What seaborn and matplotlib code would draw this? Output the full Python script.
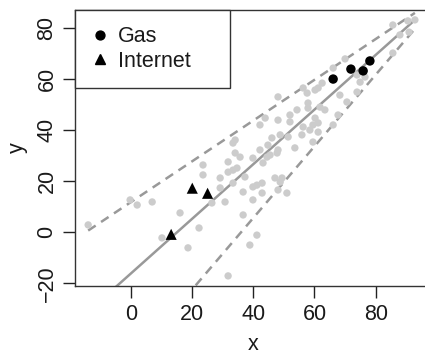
import matplotlib
matplotlib.use("Agg")
import matplotlib.pyplot as plt
import seaborn as sns
import numpy as np
import pandas as pd
from matplotlib.lines import Line2D

# ---- data ----
gray_x = [85.6, 90.5, 92.8, 87.9, 90.9, 85.6, 70.0, 66.1, 73.9, 76.5, 74.9, 61.2, 62.5, 56.3,
          57.6, 60.2, 48.1, 68.3, 73.9, 70.6, 57.9, 57.9, 61.8, 63.4, 54.3, 52.0, 52.0, 48.1,
          43.9, 42.2, 60.2, 59.5, 61.2, 67.7, 66.1, 58.5, 61.2, 56.3, 55.9, 48.8, 51.4, 46.1,
          44.8, 59.5, 53.6, 48.1, 42.2, 44.5, 39.9, 34.1, 34.1, 35.7, 33.4, 34.7, 37.3, 43.2,
          47.1, 49.4, 47.8, 45.5, 31.8, 23.6, 23.6, 29.2, 31.8, 48.8, 41.2, 42.9, 29.2, 36.7,
          42.9, 48.1, 51.0, 39.9, 30.8, 26.5, 22.3, 36.7, 41.2, 38.9, 31.8, 33.4, 39.9, -0.2,
          2.1, 7.0, -13.9, 16.1, 10.2, 18.7, 33.4]
gray_y = [81.3, 82.9, 83.3, 77.4, 78.5, 70.3, 68.0, 64.4, 61.7, 60.9, 58.9, 56.6, 58.5, 56.6,
          54.6, 55.8, 53.1, 53.8, 55.0, 51.1, 50.7, 48.7, 49.1, 48.0, 48.0, 46.0, 43.3, 44.0,
          44.8, 42.1, 44.8, 42.1, 42.9, 46.0, 42.1, 40.1, 39.3, 41.3, 38.2, 38.2, 37.4, 37.0,
          34.2, 35.4, 33.1, 32.3, 32.3, 29.5, 29.1, 36.2, 31.1, 29.5, 24.4, 25.2, 21.7, 27.2,
          21.3, 21.3, 31.1, 30.3, 27.6, 26.4, 22.5, 21.3, 23.6, 19.7, 18.5, 19.3, 17.4, 15.8,
          15.4, 16.6, 15.4, 12.7, 11.9, 11.5, 1.7, 6.8, -1.1, -5.0, -17.1, 19.3, 17.8, 12.7,
          10.7, 11.9, 2.9, 7.6, -2.2, -6.1, 35.0]
gas_x = [66.1, 71.9, 75.9, 78.1]
gas_y = [60.1, 64.0, 63.3, 67.2]
internet_x = [13.2, 20.1, 25.1]
internet_y = [-0.8, 17.3, 15.3]
# lines: (intercept, slope)
fit_line = (-16.2, 1.072)
upper_band = (11.8, 0.80)
lower_band = (-50.6, 1.405)
x_ticks = [0, 20, 40, 60, 80]
y_ticks = [-20, 0, 20, 40, 60, 80]

sns.set_style("ticks")
plt.rcParams['font.family'] = ['Liberation Sans', 'DejaVu Sans']
FS = 15.5
TXT = '#1a1a1a'

fig = plt.figure(figsize=(4.25, 3.55), dpi=100)
W, H = 425, 355
left_px, right_px, top_px, bot_px = 75, 432, 10, 286
ax = fig.add_axes([left_px / W, (H - bot_px) / H, (right_px - left_px) / W, (bot_px - top_px) / H])

xs = np.array([min(gray_x), max(gray_x)])
for (a, b), ls in [(fit_line, '-'), (upper_band, (0, (3.6, 2.6))), (lower_band, (0, (3.6, 2.6)))]:
    ax.plot(xs, a + b * xs, color='#999999', lw=1.8, ls=ls, zorder=1,
            solid_capstyle='butt', dash_capstyle='butt')

df = pd.DataFrame({'x': gray_x, 'y': gray_y})
sns.scatterplot(data=df, x='x', y='y', color='#cccccc', s=28, edgecolor='none', ax=ax, zorder=2)
sns.scatterplot(x=gas_x, y=gas_y, color='black', s=46, marker='o', edgecolor='none', ax=ax, zorder=3)
sns.scatterplot(x=internet_x, y=internet_y, color='black', s=64, marker='^', edgecolor='none', ax=ax, zorder=3)

def fmt(t):
    return str(t).replace('-', '\u2212')

ax.set_xlim(-18.2, (right_px - 130.7) / 3.0625)
ax.set_ylim(-21.06, 87.18)
ax.set_xticks(x_ticks)
ax.set_yticks(y_ticks)
ax.set_xticklabels([fmt(t) for t in x_ticks])
ax.set_yticklabels([fmt(t) for t in y_ticks], rotation=90, va='center')
ax.tick_params(axis='both', length=8.6, width=1, color='#222222', labelsize=FS, pad=4,
               labelcolor=TXT)
for sp in ax.spines.values():
    sp.set_visible(True)
    sp.set_color('#333333')
    sp.set_linewidth(1)
ax.set_xlabel('x', fontsize=FS, color=TXT, labelpad=7)
ax.set_ylabel('y', fontsize=FS, color=TXT, labelpad=6)

handles = [Line2D([], [], ls='none', marker='o', color='black', markersize=6.4),
           Line2D([], [], ls='none', marker='^', color='black', markersize=7.8)]
leg = ax.legend(handles, ['Gas', 'Internet'], loc='upper left',
                bbox_to_anchor=(0, 1, 155 / (right_px - left_px), 0), mode='expand',
                borderaxespad=0, fontsize=FS, frameon=True, fancybox=False,
                borderpad=0.75, labelspacing=0.17, handlelength=0.8, handletextpad=0.45,
                labelcolor=TXT)
leg.get_frame().set_edgecolor('#333333')
leg.get_frame().set_linewidth(1)
leg.get_frame().set_alpha(1)

fig.savefig('out.png', dpi=100)
